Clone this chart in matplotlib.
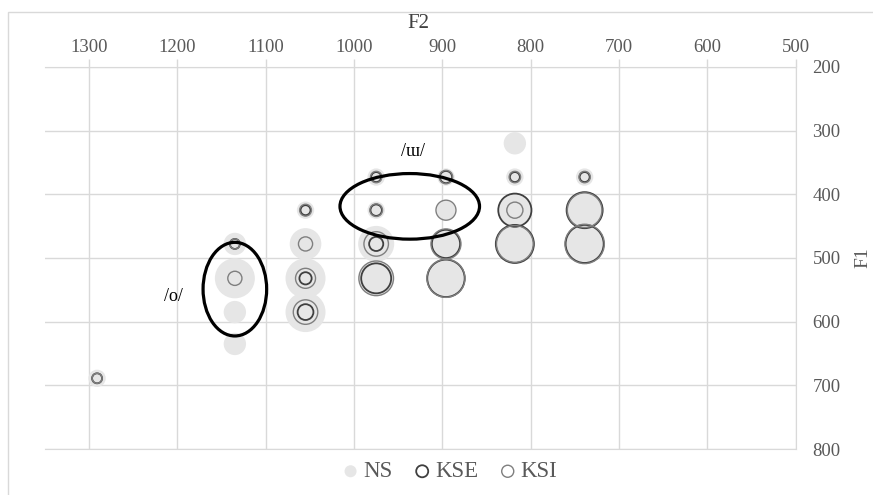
import matplotlib
import matplotlib.pyplot as plt
from matplotlib.patches import Ellipse, Rectangle
import numpy as np

matplotlib.use("Agg")

plt.rcParams["font.family"] = ["Liberation Serif", "DejaVu Serif"]

# formant cells (Hz) and token counts per speaker group
F2 = [1291, 1135, 1135, 1135, 1135, 1055, 1055, 1055, 1055,
      975, 975, 975, 975, 896, 896, 896, 896,
      818, 818, 818, 818, 739, 739, 739]
F1 = [689, 478, 532, 585, 635, 425, 478, 532, 585,
      373, 425, 478, 532, 373, 425, 478, 532,
      320, 373, 425, 478, 373, 425, 478]
NS = [3, 5, 16, 5, 5, 3, 10, 16, 16,
      3, 3, 13, 12, 3, 3.5, 8, 14,
      5, 3, 10, 14, 3, 13, 15]
KSE = [1, 1, 0, 0, 0, 1, 0, 1.5, 2.5,
       1, 1.3, 2, 9, 1.5, 0, 8, 14,
       0, 1, 11, 14.5, 1, 13, 14.5]
KSI = [1, 1, 2, 0, 0, 1.4, 2, 4, 6,
       1.3, 1.6, 6, 12, 1.8, 4, 9, 14.5,
       0, 1.3, 2.6, 13.5, 1.3, 12, 15.5]

# vowel regions: (label, centre F2, centre F1, width, height, label F2, label F1)
REGIONS = [("/o/", 1135, 549, 72, 147, 1204, 561),
           ("/ɯ/", 937, 419, 158, 103, 933, 333)]

SIZE = 51.84  # points^2 per token
GRID = "#d9d9d9"
TEXT = "#595959"


def sizes(counts):
    return [SIZE * c if c > 0 else 0 for c in counts]


fig = plt.figure(figsize=(8.73, 4.95), dpi=100)
ax = fig.add_axes([0.0515, 0.0929, 0.860, 0.772])

ax.scatter(F2, F1, s=sizes(NS), color="#e6e6e6", edgecolors="none",
           label="NS", zorder=2)
ax.scatter(F2, F1, s=sizes(KSE), facecolors="none", edgecolors="#3f3f3f",
           linewidths=1.3, label="KSE", zorder=3)
ax.scatter(F2, F1, s=sizes(KSI), facecolors="none", edgecolors="#7f7f7f",
           linewidths=1.0, label="KSI", zorder=4)

for label, cx, cy, w, h, tx, ty in REGIONS:
    ax.add_patch(Ellipse((cx, cy), w, h, fill=False, edgecolor="black",
                         linewidth=2.3, zorder=5))
    ax.text(tx, ty, label, fontsize=13, ha="center", va="center", zorder=6)

ax.set_xlim(1350, 500)
ax.set_ylim(800, 200)
ax.set_xticks(np.arange(1300, 499, -100))
ax.set_yticks(np.arange(200, 801, 100))

ax.xaxis.tick_top()
ax.yaxis.tick_right()
ax.tick_params(axis="x", length=6, color=GRID, width=1, pad=2,
               labelsize=13.5, labelcolor=TEXT)
ax.tick_params(axis="y", length=0, pad=12, labelsize=13.5, labelcolor=TEXT)

ax.grid(True, color=GRID, linewidth=1, zorder=0)
ax.set_axisbelow(True)
for side, spine in ax.spines.items():
    spine.set_color(GRID)
    spine.set_visible(side in ("top", "right", "bottom"))

fig.text(0.479, 0.952, "F2", fontsize=15, ha="center", va="center",
         color="#404040")
fig.text(0.988, 0.48, "F1", fontsize=14, rotation=90, ha="center",
         va="center", color=TEXT)

leg = ax.legend(loc="upper center", bbox_to_anchor=(0.54, 0.01), ncol=3,
                frameon=False, fontsize=16.5, handlelength=0.6,
                handletextpad=0.25, columnspacing=1.0, borderpad=0.2)
for txt in leg.get_texts():
    txt.set_color(TEXT)
for handle in leg.legend_handles:
    handle.set_sizes([75])

fig.patches.append(Rectangle((8 / 873, -0.05), 1.1, 1 - 12 / 495 + 0.05,
                             transform=fig.transFigure, fill=False,
                             edgecolor=GRID, linewidth=1))

fig.savefig("out.png", dpi=100)
plt.close(fig)
